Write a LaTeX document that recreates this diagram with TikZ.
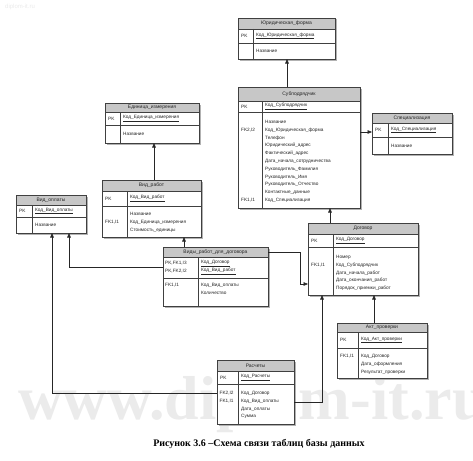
\documentclass[tikz,border=0pt]{standalone}
\usepackage{fontspec}
\setmainfont{Liberation Sans}
\newfontfamily\capfont{Liberation Serif}
\usetikzlibrary{arrows.meta,calc}
\newcommand{\ertbl}[8]{%
  \fill[shadowc] (#2+1.5,#3+1.5) rectangle (#4+1.5,#7+1.5);
  \node[tblbox, anchor=north west, minimum width={(#4-#2)*1pt}, minimum height={(#7-#3)*1pt}] (#1) at (#2,#3) {};
  \fill[hdrfill] (#2,#3) rectangle (#4,#5);
  \draw[tblline] (#1.north west) rectangle (#1.south east);
  \draw[tblline] (#2,#5) -- (#4,#5);
  \draw[tblline] (#2,#6) -- (#4,#6);
  \draw[tblline] (#8,#5) -- (#8,#7);
}
\begin{document}
\begin{tikzpicture}[x=1pt,y=-1pt,
  tblline/.style={draw=black!75, line width=0.5pt},
  hdrfill/.style={fill=black!22},
  shadowc/.style={fill=black!30},
  tblbox/.style={draw=black!75, line width=0.5pt, fill=white, inner sep=0pt, outer sep=0pt, rectangle},
  hdr/.style={font=\fontsize{5}{6}\selectfont, inner sep=0pt, text=black!85},
  ft/.style={font=\fontsize{4.7}{7.8}\selectfont, inner sep=0pt, anchor=west, text=black!85},
  fl/.style={ft, anchor=north west, align=left},
  conn/.style={draw=black!85, line width=0.6pt},
  arr/.style={conn, -{Triangle[length=4.5pt,width=3.6pt]}},
  wm/.style={inner sep=0pt, text=black!8},
]
\useasboundingbox (0,0) rectangle (473,460);
\fill[white] (0,0) rectangle (473,460);
% watermarks
\node[wm, anchor=west, font=\capfont\bfseries\fontsize{62}{62}\selectfont] (wmbig) at (18,405) {www.diplom-it.ru};
\node[wm, anchor=west, font=\fontsize{6}{7}\selectfont] (wmsmall) at (5,7) {diplom-it.ru};

% Юридическая_форма
\ertbl{yur}{238}{18}{335}{29}{43}{59}{253}
\node[hdr] (yurh) at (286.5,23.5) {Юридическая\_форма};
\node[ft] (yurk) at (241,36) {PK};
\node[ft] (yurp) at (256,36) {\underline{Код\_Юридическая\_форма}};
\node[ft] (yura) at (256,51) {Название};

% Субподрядчик
\ertbl{sub}{238}{87}{360}{101}{112}{208}{262}
\node[hdr] (subh) at (299,94) {Субподрядчик};
\node[ft] (subk) at (241,106.5) {PK};
\node[ft] (subp) at (265,106.5) {\underline{Код\_Субподрядчик}};
\node[fl] (subf) at (265,120) {Название\\Код\_Юридическая\_форма\\Телефон\\Юридический\_адрес\\Фактический\_адрес\\Дата\_начала\_сотрудничества\\Руководитель\_Фамилия\\Руководитель\_Имя\\Руководитель\_Отчество\\Контактные\_данные\\Код\_Специализация};
\node[ft] (subk2) at (241,129.8) {FK2,I2};
\node[ft] (subk1) at (241,200) {FK1,I1};

% Единица_измерения
\ertbl{edi}{105}{103}{199}{112}{125}{143}{120}
\node[hdr] (edih) at (152,107.5) {Единица\_измерения};
\node[ft] (edik) at (108,118.5) {PK};
\node[ft] (edip) at (123,118.5) {\underline{Код\_Единица\_измерения}};
\node[ft] (edia) at (123,134) {Название};

% Специализация
\ertbl{spe}{372}{113}{452}{123}{137}{154}{388}
\node[hdr] (speh) at (412,118) {Специализация};
\node[ft] (spek) at (375,130) {PK};
\node[ft] (spep) at (391,130) {\underline{Код\_Специализация}};
\node[ft] (spea) at (391,146) {Название};

% Вид_оплаты
\ertbl{vop}{16}{195}{86}{205}{217}{233}{32}
\node[hdr] (voph) at (51,200) {Вид\_оплаты};
\node[ft] (vopk) at (19,211) {PK};
\node[ft] (vopp) at (35,211) {\underline{Код\_Вид\_оплаты}};
\node[ft] (vopa) at (35,225) {Название};

% Вид_работ
\ertbl{vra}{102}{180}{201}{191}{206}{237}{127}
\node[hdr] (vrah) at (151.5,185.5) {Вид\_работ};
\node[ft] (vrak) at (105,198.5) {PK};
\node[ft] (vrap) at (130,198.5) {\underline{Код\_Вид\_работ}};
\node[fl] (vraf) at (130,212) {Название\\Код\_Единица\_измерения\\Стоимость\_единицы};
\node[ft] (vrak1) at (105,221.8) {FK1,I1};

% Договор
\ertbl{dog}{308}{223}{418}{234}{247}{295}{333}
\node[hdr] (dogh) at (363,228.5) {Договор};
\node[ft] (dogk) at (311,240.5) {PK};
\node[ft] (dogp) at (336,240.5) {\underline{Код\_Договор}};
\node[fl] (dogf) at (336,255) {Номер\\Код\_Субподрядчик\\Дата\_начала\_работ\\Дата\_окончания\_работ\\Порядок\_приемки\_работ};
\node[ft] (dogk1) at (311,264.8) {FK1,I1};

% Виды_работ_для_договора
\ertbl{vrd}{163}{247}{268}{257}{278}{306}{198}
\node[hdr] (vrdh) at (215.5,252) {Виды\_работ\_для\_договора};
\node[ft] (vrdk1) at (165,263.5) {PK,FK1,I3};
\node[ft] (vrdk2) at (165,271.3) {PK,FK2,I2};
\node[ft] (vrdp1) at (201,263.5) {\underline{Код\_Договор}};
\node[ft] (vrdp2) at (201,271.3) {\underline{Код\_Вид\_работ}};
\node[ft] (vrdk3) at (165,285.5) {FK1,I1};
\node[fl] (vrdf) at (201,283.5) {Код\_Вид\_оплаты\\Количество};

% Акт_проверки
\ertbl{akt}{337}{323}{427}{332}{348}{378}{358}
\node[hdr] (akth) at (382,327.5) {Акт\_проверки};
\node[ft] (aktk) at (340,340) {PK};
\node[ft] (aktp) at (361,340) {\underline{Код\_Акт\_проверки}};
\node[fl] (aktf) at (361,354) {Код\_Договор\\Дата\_оформления\\Результат\_проверки};
\node[ft] (aktk1) at (340,356) {FK1,I1};

% Расчеты
\ertbl{ras}{217}{360}{294}{371}{384}{424}{238}
\node[hdr] (rash) at (255.5,365.5) {Расчеты};
\node[ft] (rask) at (220,377.5) {PK};
\node[ft] (rasp) at (241,377.5) {\underline{Код\_Расчеты}};
\node[fl] (rasf) at (241,391) {Код\_Договор\\Код\_Вид\_оплаты\\Дата\_оплаты\\Сумма};
\node[ft] (rask2) at (219.5,393) {FK2,I2};
\node[ft] (rask1) at (219.5,400.8) {FK1,I1};

% connectors
\draw[arr] (287,0 |- sub.north) -- (287,0 |- yur.south);
\draw[arr] (0,132 -| sub.east) -- (0,132 -| spe.west);
\draw[arr] (154,0 |- vra.north) -- (154,0 |- edi.south);
\draw[arr] (330,0 |- dog.north) -- (330,0 |- sub.south);
\draw[arr] (184,0 |- vrd.north) -- (184,0 |- vra.south);
\draw[arr] (0,252 -| vrd.east) -- (300,252) -- (300,284) -- (0,284 -| dog.west);
\draw[arr] (0,267.5 -| vrd.west) -- (69,267.5) -- (69,0 |- vop.south);
\draw[arr] (0,393 -| ras.west) -- (52,393) -- (52,0 |- vop.south);
\draw[arr] (0,402 -| ras.east) -- (322,402) -- (322,0 |- dog.south);
\draw[arr] (374,0 |- akt.north) -- (374,0 |- dog.south);

% caption
\node[inner sep=0pt, font=\capfont\bfseries\fontsize{10}{12}\selectfont] (cap) at (259,444) {Рисунок 3.6 –Схема связи таблиц базы данных};
\end{tikzpicture}
\end{document}
